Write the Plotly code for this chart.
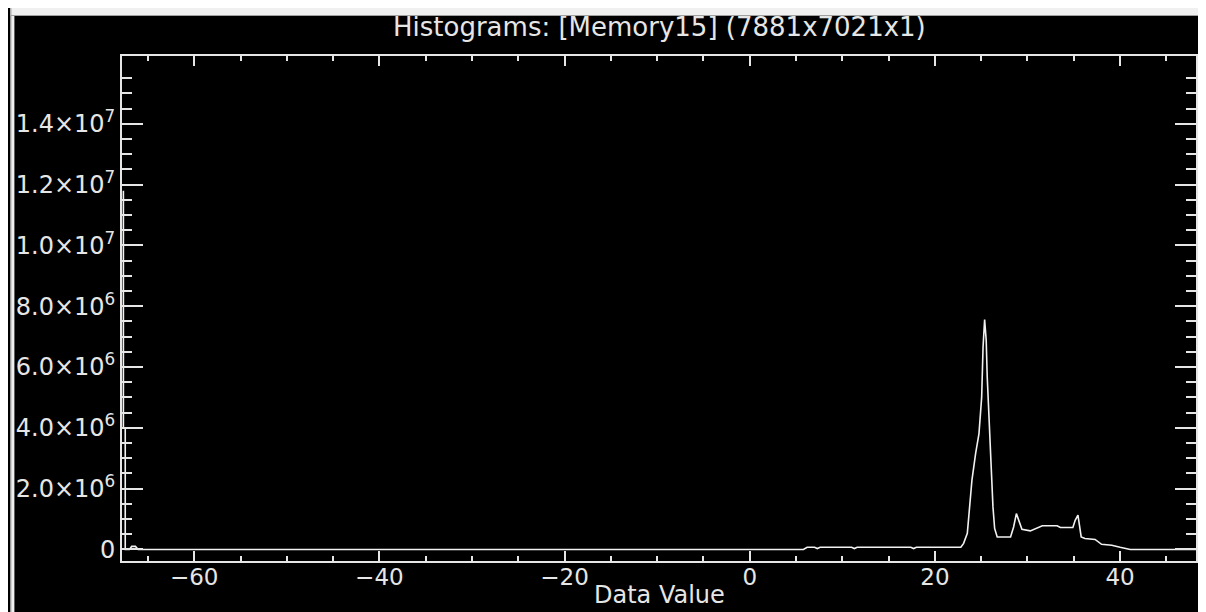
import plotly.graph_objects as go

# ---------------- data ----------------
data_value = [
    -67.65, -67.65, -67.45, -67.45, -67.00, -66.75, -66.35, -66.05,
    -40.0, -20.0, 0.0, 5.8, 6.2, 7.0, 7.3, 7.6, 11.0, 11.3, 11.6, 17.4, 17.7, 18.0, 22.8,
    23.1, 23.5, 23.75, 24.0, 24.4, 24.76, 25.05, 25.2, 25.37, 25.54, 25.65, 25.83,
    26.1, 26.27, 26.45, 26.73, 28.17, 28.5, 28.8, 29.06, 29.4, 30.3, 31.6, 33.2,
    33.55, 34.9, 35.15, 35.45, 35.8, 36.2, 37.3, 38.0, 39.1, 40.0, 41.1, 48.2,
]
counts = [
    1.18e7, 4.0e6, 4.0e6, 0.0, 0.0, 1.0e5, 1.0e5, 0.0,
    0.0, 0.0, 0.0, 0.0, 7.0e4, 7.0e4, 3.0e4, 7.0e4, 7.0e4, 3.0e4, 7.0e4, 7.0e4, 3.0e4, 7.0e4, 7.0e4,
    0.2e6, 0.53e6, 1.4e6, 2.28e6, 3.16e6, 3.81e6, 5.0e6, 6.66e6, 7.56e6, 6.88e6, 5.68e6, 4.36e6,
    2.83e6, 1.4e6, 0.69e6, 0.41e6, 0.41e6, 0.74e6, 1.18e6, 0.96e6, 0.66e6, 0.61e6, 0.78e6, 0.78e6,
    0.72e6, 0.72e6, 0.96e6, 1.13e6, 0.41e6, 0.36e6, 0.33e6, 0.17e6, 0.14e6, 0.07e6, 0.0, 0.0,
]

x_major = [-60, -40, -20, 0, 20, 40]
x_minor = [-65, -55, -50, -45, -35, -30, -25, -15, -10, -5, 5, 10, 15, 25, 30, 35, 45]
y_major = [0, 2e6, 4e6, 6e6, 8e6, 1.0e7, 1.2e7, 1.4e7]
y_major_text = ["0", "2.0×10<sup>6</sup>", "4.0×10<sup>6</sup>", "6.0×10<sup>6</sup>",
                "8.0×10<sup>6</sup>", "1.0×10<sup>7</sup>", "1.2×10<sup>7</sup>", "1.4×10<sup>7</sup>"]
y_minor = [v * 0.5e6 for v in range(1, 32) if v % 4 != 0]

title_text = "Histograms: [Memory15] (7881x7021x1)"
xlabel_text = "Data Value"

# ---------------- layout helpers ----------------
# page has an 8px body margin, so figure coords = page coords - 8
OFF = 8
W, H = 1206 - OFF, 612 - OFF
L, R, T, B = 112, 8, 48, 51
PW, PH = W - L - R, H - T - B

def fx(px):
    return (px - L) / PW

def fy(py):
    return 1 - (py - T) / PH

FG = "#e6e6e6"
FONT = "DejaVu Sans"

fig = go.Figure()
fig.add_trace(go.Scatter(x=data_value, y=counts, mode="lines",
                         line=dict(color="#f2f2f2", width=1.6), hoverinfo="skip"))

axis_common = dict(
    showline=True, linecolor=FG, linewidth=1.8, mirror="ticks",
    ticks="inside", tickcolor=FG, tickwidth=1.5,
    showgrid=False, zeroline=False,
)

fig.update_xaxes(
    range=[-67.8, 48.2], tickmode="array", tickvals=x_major, ticklen=10,
    tickfont=dict(family=FONT, size=23, color=FG), ticklabelstandoff=-6,
    minor=dict(tickmode="array", tickvals=x_minor, ticklen=5, ticks="inside",
               tickcolor=FG, tickwidth=1.5, showgrid=False),
    **axis_common,
)
fig.update_yaxes(
    range=[-0.38e6, 16.23e6], tickmode="array", tickvals=y_major, ticktext=y_major_text,
    ticklen=21, tickfont=dict(family=FONT, size=24, color=FG),
    minor=dict(tickmode="array", tickvals=y_minor, ticklen=10, ticks="inside",
               tickcolor=FG, tickwidth=1.5, showgrid=False),
    **axis_common,
)

shapes = [
    dict(type="rect", xref="paper", yref="paper", x0=fx(0), x1=fx(W), y0=fy(0), y1=fy(8),
         fillcolor="#f0f0f0", line=dict(width=0), layer="above"),
    dict(type="rect", xref="paper", yref="paper", x0=fx(0), x1=fx(4), y0=fy(0), y1=fy(H),
         fillcolor="#f0f0f0", line=dict(width=0), layer="above"),
    dict(type="line", xref="paper", yref="paper", x0=fx(0), x1=fx(W), y0=fy(7.5), y1=fy(7.5),
         line=dict(color="#a0a0a0", width=1), layer="above"),
    dict(type="line", xref="paper", yref="paper", x0=fx(0.5), x1=fx(0.5), y0=fy(0), y1=fy(H),
         line=dict(color="#a0a0a0", width=1), layer="above"),
]

annotations = [
    dict(text=title_text, xref="paper", yref="paper", x=0.5, y=fy(27 - OFF), xanchor="center",
         yanchor="middle", showarrow=False, font=dict(family=FONT, size=26, color=FG)),
    dict(text=xlabel_text, xref="paper", yref="paper", x=0.5, y=fy(595 - OFF), xanchor="center",
         yanchor="middle", showarrow=False, font=dict(family=FONT, size=24, color=FG)),
]

fig.update_layout(
    width=W, height=H, margin=dict(l=L, r=R, t=T, b=B),
    paper_bgcolor="black", plot_bgcolor="black", showlegend=False,
    shapes=shapes, annotations=annotations,
)

fig.write_html("out.html")
